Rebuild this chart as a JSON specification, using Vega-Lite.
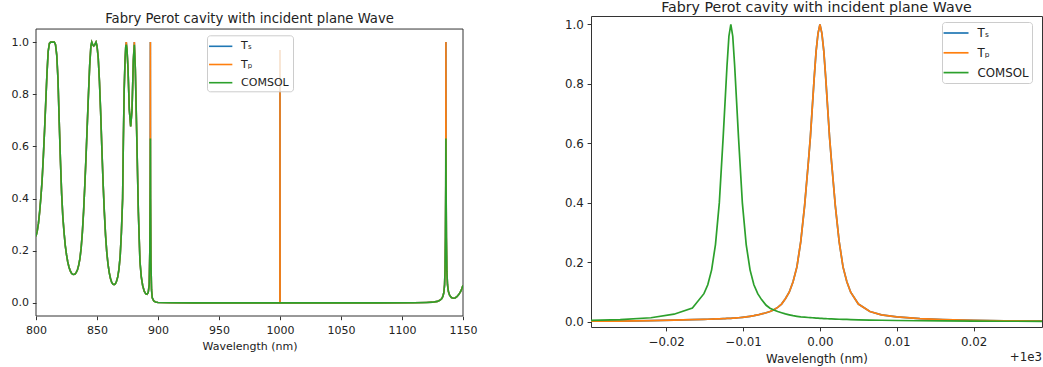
{
  "$schema": "https://vega.github.io/schema/vega-lite/v6.json",
  "background": "white",
  "padding": {"left": 11, "top": 0, "right": 2, "bottom": 0},
  "spacing": 86,
  "config": {
    "font": "DejaVu Sans",
    "view": {"stroke": "#333", "strokeWidth": 1},
    "axis": {"grid": false, "domain": false, "tickColor": "#333", "labelColor": "#222", "titleColor": "#222", "labelFont": "DejaVu Sans", "titleFont": "DejaVu Sans", "titleFontWeight": "normal", "labelFlush": false, "labelOverlap": false},
    "title": {"font": "DejaVu Sans", "fontWeight": "normal", "color": "#222", "anchor": "middle"},
    "legend": {"title": null, "orient": "none", "labelColor": "#222", "labelFont": "DejaVu Sans", "fillColor": "rgba(255,255,255,0.8)", "strokeColor": "#cccccc", "cornerRadius": 3}
  },
  "resolve": {"legend": {"color": "independent"}},
  "datasets": {
    "left": [
      {"wl": 800, "Ts": 0.255, "Tp": 0.255, "COMSOL": 0.255},
      {"wl": 801, "Ts": 0.275, "Tp": 0.275, "COMSOL": 0.275},
      {"wl": 802, "Ts": 0.305, "Tp": 0.305, "COMSOL": 0.305},
      {"wl": 803, "Ts": 0.35, "Tp": 0.35, "COMSOL": 0.35},
      {"wl": 804, "Ts": 0.405, "Tp": 0.405, "COMSOL": 0.405},
      {"wl": 805, "Ts": 0.47, "Tp": 0.47, "COMSOL": 0.47},
      {"wl": 806, "Ts": 0.56, "Tp": 0.56, "COMSOL": 0.56},
      {"wl": 807, "Ts": 0.66, "Tp": 0.66, "COMSOL": 0.66},
      {"wl": 808, "Ts": 0.77, "Tp": 0.77, "COMSOL": 0.77},
      {"wl": 809, "Ts": 0.88, "Tp": 0.88, "COMSOL": 0.88},
      {"wl": 810, "Ts": 0.965, "Tp": 0.965, "COMSOL": 0.965},
      {"wl": 811, "Ts": 0.995, "Tp": 0.995, "COMSOL": 0.995},
      {"wl": 812, "Ts": 1.0, "Tp": 1.0, "COMSOL": 1.0},
      {"wl": 813, "Ts": 1.0, "Tp": 1.0, "COMSOL": 1.0},
      {"wl": 814, "Ts": 1.0, "Tp": 1.0, "COMSOL": 1.0},
      {"wl": 815, "Ts": 1.0, "Tp": 1.0, "COMSOL": 1.0},
      {"wl": 816, "Ts": 0.99, "Tp": 0.99, "COMSOL": 0.99},
      {"wl": 817, "Ts": 0.95, "Tp": 0.95, "COMSOL": 0.95},
      {"wl": 818, "Ts": 0.86, "Tp": 0.86, "COMSOL": 0.86},
      {"wl": 819, "Ts": 0.7, "Tp": 0.7, "COMSOL": 0.7},
      {"wl": 820, "Ts": 0.55, "Tp": 0.55, "COMSOL": 0.55},
      {"wl": 821, "Ts": 0.42, "Tp": 0.42, "COMSOL": 0.42},
      {"wl": 822, "Ts": 0.33, "Tp": 0.33, "COMSOL": 0.33},
      {"wl": 823, "Ts": 0.27, "Tp": 0.27, "COMSOL": 0.27},
      {"wl": 824, "Ts": 0.22, "Tp": 0.22, "COMSOL": 0.22},
      {"wl": 825, "Ts": 0.185, "Tp": 0.185, "COMSOL": 0.185},
      {"wl": 826, "Ts": 0.158, "Tp": 0.158, "COMSOL": 0.158},
      {"wl": 827, "Ts": 0.138, "Tp": 0.138, "COMSOL": 0.138},
      {"wl": 828, "Ts": 0.124, "Tp": 0.124, "COMSOL": 0.124},
      {"wl": 829, "Ts": 0.115, "Tp": 0.115, "COMSOL": 0.115},
      {"wl": 830, "Ts": 0.11, "Tp": 0.11, "COMSOL": 0.11},
      {"wl": 831, "Ts": 0.109, "Tp": 0.109, "COMSOL": 0.109},
      {"wl": 832, "Ts": 0.111, "Tp": 0.111, "COMSOL": 0.111},
      {"wl": 833, "Ts": 0.117, "Tp": 0.117, "COMSOL": 0.117},
      {"wl": 834, "Ts": 0.127, "Tp": 0.127, "COMSOL": 0.127},
      {"wl": 835, "Ts": 0.145, "Tp": 0.145, "COMSOL": 0.145},
      {"wl": 836, "Ts": 0.17, "Tp": 0.17, "COMSOL": 0.17},
      {"wl": 837, "Ts": 0.21, "Tp": 0.21, "COMSOL": 0.21},
      {"wl": 838, "Ts": 0.27, "Tp": 0.27, "COMSOL": 0.27},
      {"wl": 839, "Ts": 0.35, "Tp": 0.35, "COMSOL": 0.35},
      {"wl": 840, "Ts": 0.45, "Tp": 0.45, "COMSOL": 0.45},
      {"wl": 841, "Ts": 0.56, "Tp": 0.56, "COMSOL": 0.56},
      {"wl": 842, "Ts": 0.68, "Tp": 0.68, "COMSOL": 0.68},
      {"wl": 843, "Ts": 0.8, "Tp": 0.8, "COMSOL": 0.8},
      {"wl": 844, "Ts": 0.91, "Tp": 0.91, "COMSOL": 0.91},
      {"wl": 845, "Ts": 0.985, "Tp": 0.985, "COMSOL": 0.985},
      {"wl": 845.7, "Ts": 1.0, "Tp": 1.0, "COMSOL": 1.0},
      {"wl": 846.5, "Ts": 0.99, "Tp": 0.99, "COMSOL": 0.99},
      {"wl": 847.3, "Ts": 0.985, "Tp": 0.985, "COMSOL": 0.985},
      {"wl": 848.2, "Ts": 0.99, "Tp": 0.99, "COMSOL": 0.99},
      {"wl": 849.2, "Ts": 1.0, "Tp": 1.0, "COMSOL": 1.0},
      {"wl": 850, "Ts": 0.985, "Tp": 0.985, "COMSOL": 0.985},
      {"wl": 851, "Ts": 0.94, "Tp": 0.94, "COMSOL": 0.94},
      {"wl": 852, "Ts": 0.85, "Tp": 0.85, "COMSOL": 0.85},
      {"wl": 853, "Ts": 0.73, "Tp": 0.73, "COMSOL": 0.73},
      {"wl": 854, "Ts": 0.59, "Tp": 0.59, "COMSOL": 0.59},
      {"wl": 855, "Ts": 0.46, "Tp": 0.46, "COMSOL": 0.46},
      {"wl": 856, "Ts": 0.35, "Tp": 0.35, "COMSOL": 0.35},
      {"wl": 857, "Ts": 0.26, "Tp": 0.26, "COMSOL": 0.26},
      {"wl": 858, "Ts": 0.195, "Tp": 0.195, "COMSOL": 0.195},
      {"wl": 859, "Ts": 0.15, "Tp": 0.15, "COMSOL": 0.15},
      {"wl": 860, "Ts": 0.117, "Tp": 0.117, "COMSOL": 0.117},
      {"wl": 861, "Ts": 0.095, "Tp": 0.095, "COMSOL": 0.095},
      {"wl": 862, "Ts": 0.08, "Tp": 0.08, "COMSOL": 0.08},
      {"wl": 863, "Ts": 0.072, "Tp": 0.072, "COMSOL": 0.072},
      {"wl": 864, "Ts": 0.07, "Tp": 0.07, "COMSOL": 0.07},
      {"wl": 865, "Ts": 0.073, "Tp": 0.073, "COMSOL": 0.073},
      {"wl": 866, "Ts": 0.083, "Tp": 0.083, "COMSOL": 0.083},
      {"wl": 867, "Ts": 0.1, "Tp": 0.1, "COMSOL": 0.1},
      {"wl": 868, "Ts": 0.13, "Tp": 0.13, "COMSOL": 0.13},
      {"wl": 869, "Ts": 0.18, "Tp": 0.18, "COMSOL": 0.18},
      {"wl": 870, "Ts": 0.27, "Tp": 0.27, "COMSOL": 0.27},
      {"wl": 871, "Ts": 0.4, "Tp": 0.4, "COMSOL": 0.4},
      {"wl": 871.6, "Ts": 0.62, "Tp": 0.62, "COMSOL": 0.62},
      {"wl": 872.3, "Ts": 0.82, "Tp": 0.82, "COMSOL": 0.82},
      {"wl": 873, "Ts": 0.93, "Tp": 0.93, "COMSOL": 0.93},
      {"wl": 873.6, "Ts": 0.985, "Tp": 0.985, "COMSOL": 0.985},
      {"wl": 874.0, "Ts": 1.0, "Tp": 1.0, "COMSOL": 0.99},
      {"wl": 874.6, "Ts": 0.97, "Tp": 0.97, "COMSOL": 0.97},
      {"wl": 875.4, "Ts": 0.9, "Tp": 0.9, "COMSOL": 0.9},
      {"wl": 876.5, "Ts": 0.74, "Tp": 0.74, "COMSOL": 0.74},
      {"wl": 877.6, "Ts": 0.677, "Tp": 0.677, "COMSOL": 0.677},
      {"wl": 878.7, "Ts": 0.74, "Tp": 0.74, "COMSOL": 0.74},
      {"wl": 879.8, "Ts": 0.93, "Tp": 0.93, "COMSOL": 0.93},
      {"wl": 880.6, "Ts": 1.0, "Tp": 1.0, "COMSOL": 0.99},
      {"wl": 881.4, "Ts": 0.9, "Tp": 0.9, "COMSOL": 0.9},
      {"wl": 882.5, "Ts": 0.66, "Tp": 0.66, "COMSOL": 0.66},
      {"wl": 883.9, "Ts": 0.35, "Tp": 0.35, "COMSOL": 0.35},
      {"wl": 885.2, "Ts": 0.16, "Tp": 0.16, "COMSOL": 0.16},
      {"wl": 886.3, "Ts": 0.1, "Tp": 0.1, "COMSOL": 0.1},
      {"wl": 887.4, "Ts": 0.068, "Tp": 0.068, "COMSOL": 0.068},
      {"wl": 888.7, "Ts": 0.045, "Tp": 0.045, "COMSOL": 0.045},
      {"wl": 890, "Ts": 0.035, "Tp": 0.035, "COMSOL": 0.035},
      {"wl": 891, "Ts": 0.033, "Tp": 0.033, "COMSOL": 0.033},
      {"wl": 892, "Ts": 0.04, "Tp": 0.04, "COMSOL": 0.04},
      {"wl": 892.8, "Ts": 0.07, "Tp": 0.07, "COMSOL": 0.07},
      {"wl": 893.3, "Ts": 0.2, "Tp": 0.2, "COMSOL": 0.2},
      {"wl": 893.6, "Ts": 0.45, "Tp": 0.45, "COMSOL": 0.45},
      {"wl": 893.75, "Ts": 1.0, "Tp": 1.0, "COMSOL": 0.63},
      {"wl": 893.9, "Ts": 0.4, "Tp": 0.4, "COMSOL": 0.4},
      {"wl": 894.2, "Ts": 0.16, "Tp": 0.16, "COMSOL": 0.16},
      {"wl": 894.7, "Ts": 0.05, "Tp": 0.05, "COMSOL": 0.05},
      {"wl": 895.3, "Ts": 0.02, "Tp": 0.02, "COMSOL": 0.02},
      {"wl": 896.5, "Ts": 0.008, "Tp": 0.008, "COMSOL": 0.008},
      {"wl": 898, "Ts": 0.004, "Tp": 0.004, "COMSOL": 0.004},
      {"wl": 900, "Ts": 0.002, "Tp": 0.002, "COMSOL": 0.002},
      {"wl": 910, "Ts": 0.001, "Tp": 0.001, "COMSOL": 0.001},
      {"wl": 930, "Ts": 0.0005, "Tp": 0.0005, "COMSOL": 0.0005},
      {"wl": 960, "Ts": 0.0003, "Tp": 0.0003, "COMSOL": 0.0003},
      {"wl": 999.9, "Ts": 0.0002, "Tp": 0.0002, "COMSOL": 0.0002},
      {"wl": 1000, "Ts": 0.97, "Tp": 0.97, "COMSOL": 0.0002},
      {"wl": 1000.1, "Ts": 0.0002, "Tp": 0.0002, "COMSOL": 0.0002},
      {"wl": 1040, "Ts": 0.0003, "Tp": 0.0003, "COMSOL": 0.0003},
      {"wl": 1080, "Ts": 0.0005, "Tp": 0.0005, "COMSOL": 0.0005},
      {"wl": 1110, "Ts": 0.001, "Tp": 0.001, "COMSOL": 0.001},
      {"wl": 1120, "Ts": 0.002, "Tp": 0.002, "COMSOL": 0.002},
      {"wl": 1125, "Ts": 0.003, "Tp": 0.003, "COMSOL": 0.003},
      {"wl": 1129, "Ts": 0.006, "Tp": 0.006, "COMSOL": 0.006},
      {"wl": 1131, "Ts": 0.01, "Tp": 0.01, "COMSOL": 0.01},
      {"wl": 1132.5, "Ts": 0.016, "Tp": 0.016, "COMSOL": 0.016},
      {"wl": 1133.5, "Ts": 0.025, "Tp": 0.025, "COMSOL": 0.025},
      {"wl": 1134.3, "Ts": 0.04, "Tp": 0.04, "COMSOL": 0.04},
      {"wl": 1134.9, "Ts": 0.07, "Tp": 0.07, "COMSOL": 0.07},
      {"wl": 1135.3, "Ts": 0.13, "Tp": 0.13, "COMSOL": 0.13},
      {"wl": 1135.6, "Ts": 0.25, "Tp": 0.25, "COMSOL": 0.25},
      {"wl": 1135.85, "Ts": 0.45, "Tp": 0.45, "COMSOL": 0.45},
      {"wl": 1136.0, "Ts": 1.0, "Tp": 1.0, "COMSOL": 0.63},
      {"wl": 1136.15, "Ts": 0.45, "Tp": 0.45, "COMSOL": 0.45},
      {"wl": 1136.4, "Ts": 0.25, "Tp": 0.25, "COMSOL": 0.25},
      {"wl": 1136.8, "Ts": 0.12, "Tp": 0.12, "COMSOL": 0.12},
      {"wl": 1137.3, "Ts": 0.07, "Tp": 0.07, "COMSOL": 0.07},
      {"wl": 1138, "Ts": 0.045, "Tp": 0.045, "COMSOL": 0.045},
      {"wl": 1139, "Ts": 0.03, "Tp": 0.03, "COMSOL": 0.03},
      {"wl": 1140.5, "Ts": 0.021, "Tp": 0.021, "COMSOL": 0.021},
      {"wl": 1142, "Ts": 0.018, "Tp": 0.018, "COMSOL": 0.018},
      {"wl": 1143.5, "Ts": 0.019, "Tp": 0.019, "COMSOL": 0.019},
      {"wl": 1145, "Ts": 0.024, "Tp": 0.024, "COMSOL": 0.024},
      {"wl": 1146.5, "Ts": 0.032, "Tp": 0.032, "COMSOL": 0.032},
      {"wl": 1148, "Ts": 0.043, "Tp": 0.043, "COMSOL": 0.043},
      {"wl": 1149, "Ts": 0.054, "Tp": 0.054, "COMSOL": 0.054},
      {"wl": 1150, "Ts": 0.068, "Tp": 0.068, "COMSOL": 0.068}
    ],
    "right": [
      {"off": -0.0298, "Ts": 0.0025, "Tp": 0.0025, "COMSOL": 0.005},
      {"off": -0.026, "Ts": 0.003, "Tp": 0.003, "COMSOL": 0.0075},
      {"off": -0.022, "Ts": 0.0045, "Tp": 0.0045, "COMSOL": 0.014},
      {"off": -0.019, "Ts": 0.006, "Tp": 0.006, "COMSOL": 0.026},
      {"off": -0.0166, "Ts": 0.0075, "Tp": 0.0075, "COMSOL": 0.047},
      {"off": -0.0151, "Ts": 0.0085, "Tp": 0.0085, "COMSOL": 0.095},
      {"off": -0.0146, "Ts": 0.009, "Tp": 0.009, "COMSOL": 0.125},
      {"off": -0.0141, "Ts": 0.0095, "Tp": 0.0095, "COMSOL": 0.175},
      {"off": -0.0136, "Ts": 0.01, "Tp": 0.01, "COMSOL": 0.26},
      {"off": -0.0131, "Ts": 0.0105, "Tp": 0.0105, "COMSOL": 0.4},
      {"off": -0.0126, "Ts": 0.011, "Tp": 0.011, "COMSOL": 0.62},
      {"off": -0.01235, "Ts": 0.0113, "Tp": 0.0113, "COMSOL": 0.74},
      {"off": -0.0121, "Ts": 0.0117, "Tp": 0.0117, "COMSOL": 0.86},
      {"off": -0.01185, "Ts": 0.012, "Tp": 0.012, "COMSOL": 0.96},
      {"off": -0.0116, "Ts": 0.0123, "Tp": 0.0123, "COMSOL": 1.0},
      {"off": -0.01135, "Ts": 0.0127, "Tp": 0.0127, "COMSOL": 0.96},
      {"off": -0.0111, "Ts": 0.013, "Tp": 0.013, "COMSOL": 0.86},
      {"off": -0.01085, "Ts": 0.0135, "Tp": 0.0135, "COMSOL": 0.74},
      {"off": -0.0106, "Ts": 0.014, "Tp": 0.014, "COMSOL": 0.62},
      {"off": -0.0101, "Ts": 0.0155, "Tp": 0.0155, "COMSOL": 0.4},
      {"off": -0.0096, "Ts": 0.017, "Tp": 0.017, "COMSOL": 0.26},
      {"off": -0.0091, "Ts": 0.019, "Tp": 0.019, "COMSOL": 0.175},
      {"off": -0.0086, "Ts": 0.021, "Tp": 0.021, "COMSOL": 0.125},
      {"off": -0.0081, "Ts": 0.0235, "Tp": 0.0235, "COMSOL": 0.095},
      {"off": -0.0076, "Ts": 0.027, "Tp": 0.027, "COMSOL": 0.075},
      {"off": -0.007, "Ts": 0.031, "Tp": 0.031, "COMSOL": 0.056},
      {"off": -0.0065, "Ts": 0.035, "Tp": 0.035, "COMSOL": 0.046},
      {"off": -0.006, "Ts": 0.041, "Tp": 0.041, "COMSOL": 0.04},
      {"off": -0.0055, "Ts": 0.049, "Tp": 0.049, "COMSOL": 0.035},
      {"off": -0.005, "Ts": 0.06, "Tp": 0.06, "COMSOL": 0.031},
      {"off": -0.0045, "Ts": 0.078, "Tp": 0.078, "COMSOL": 0.027},
      {"off": -0.004, "Ts": 0.1, "Tp": 0.1, "COMSOL": 0.024},
      {"off": -0.0035, "Ts": 0.135, "Tp": 0.135, "COMSOL": 0.021},
      {"off": -0.003, "Ts": 0.185, "Tp": 0.185, "COMSOL": 0.019},
      {"off": -0.0025, "Ts": 0.27, "Tp": 0.27, "COMSOL": 0.017},
      {"off": -0.002, "Ts": 0.39, "Tp": 0.39, "COMSOL": 0.016},
      {"off": -0.0015, "Ts": 0.54, "Tp": 0.54, "COMSOL": 0.015},
      {"off": -0.00125, "Ts": 0.62, "Tp": 0.62, "COMSOL": 0.0145},
      {"off": -0.001, "Ts": 0.72, "Tp": 0.72, "COMSOL": 0.014},
      {"off": -0.00075, "Ts": 0.82, "Tp": 0.82, "COMSOL": 0.0135},
      {"off": -0.0005, "Ts": 0.91, "Tp": 0.91, "COMSOL": 0.013},
      {"off": -0.00025, "Ts": 0.97, "Tp": 0.97, "COMSOL": 0.0125},
      {"off": 0, "Ts": 1.0, "Tp": 1.0, "COMSOL": 0.012},
      {"off": 0.00025, "Ts": 0.97, "Tp": 0.97, "COMSOL": 0.0117},
      {"off": 0.0005, "Ts": 0.91, "Tp": 0.91, "COMSOL": 0.0113},
      {"off": 0.00075, "Ts": 0.82, "Tp": 0.82, "COMSOL": 0.011},
      {"off": 0.001, "Ts": 0.72, "Tp": 0.72, "COMSOL": 0.0107},
      {"off": 0.00125, "Ts": 0.62, "Tp": 0.62, "COMSOL": 0.0104},
      {"off": 0.0015, "Ts": 0.54, "Tp": 0.54, "COMSOL": 0.0101},
      {"off": 0.002, "Ts": 0.39, "Tp": 0.39, "COMSOL": 0.0096},
      {"off": 0.0025, "Ts": 0.27, "Tp": 0.27, "COMSOL": 0.0091},
      {"off": 0.003, "Ts": 0.185, "Tp": 0.185, "COMSOL": 0.0087},
      {"off": 0.0035, "Ts": 0.135, "Tp": 0.135, "COMSOL": 0.0083},
      {"off": 0.004, "Ts": 0.1, "Tp": 0.1, "COMSOL": 0.0079},
      {"off": 0.005, "Ts": 0.06, "Tp": 0.06, "COMSOL": 0.0072},
      {"off": 0.0065, "Ts": 0.035, "Tp": 0.035, "COMSOL": 0.0063},
      {"off": 0.008, "Ts": 0.024, "Tp": 0.024, "COMSOL": 0.0056},
      {"off": 0.01, "Ts": 0.017, "Tp": 0.017, "COMSOL": 0.0049},
      {"off": 0.013, "Ts": 0.011, "Tp": 0.011, "COMSOL": 0.004},
      {"off": 0.016, "Ts": 0.008, "Tp": 0.008, "COMSOL": 0.0034},
      {"off": 0.02, "Ts": 0.0055, "Tp": 0.0055, "COMSOL": 0.0028},
      {"off": 0.024, "Ts": 0.004, "Tp": 0.004, "COMSOL": 0.0024},
      {"off": 0.0289, "Ts": 0.003, "Tp": 0.003, "COMSOL": 0.002}
    ]
  },
  "hconcat": [
    {
      "width": 427,
      "height": 300,
      "view": {"stroke": null},
      "layer": [
        {
          "data": {"values": [{}]},
          "mark": {"type": "rect", "filled": false, "stroke": "#333", "strokeWidth": 1, "clip": false},
          "encoding": {
            "x": {"datum": 800, "type": "quantitative"},
            "x2": {"datum": 1150},
            "y": {"datum": -0.05, "type": "quantitative"},
            "y2": {"datum": 1.05}
          }
        },
        {
          "data": {"name": "left"},
          "transform": [{"fold": ["Ts", "Tp", "COMSOL"], "as": ["series", "T"]}],
          "mark": {"type": "line", "strokeWidth": 1.6, "clip": true},
          "encoding": {
            "x": {"field": "wl", "type": "quantitative", "scale": {"domain": [800, 1150], "nice": false, "zero": false},
                  "axis": {"title": "Wavelength (nm)", "values": [800, 850, 900, 950, 1000, 1050, 1100, 1150], "format": "d", "labelFontSize": 11, "titleFontSize": 11, "tickSize": 3.7, "labelPadding": 5.2, "titlePadding": 5}},
            "y": {"field": "T", "type": "quantitative", "scale": {"domain": [-0.05, 1.1], "nice": false, "zero": false},
                  "axis": {"title": null, "values": [0, 0.2, 0.4, 0.6, 0.8, 1.0], "format": ".1f", "labelFontSize": 11, "tickSize": 3.7, "labelPadding": 3.7}},
            "color": {"field": "series", "type": "nominal",
                      "scale": {"domain": ["Ts", "Tp", "COMSOL"], "range": ["#1f77b4", "#ff7f0e", "#2ca02c"]},
                      "legend": {"legendX": 171, "legendY": 19.3, "labelFontSize": 11, "symbolType": "M-1.4,0L2.24,0", "symbolSize": 164, "symbolStrokeWidth": 1.6,
                                 "padding": 3.5, "rowPadding": 5.2, "labelOffset": 15.6,
                                 "labelExpr": "datum.value == 'Ts' ? 'Tₛ' : datum.value == 'Tp' ? 'Tₚ' : datum.value"}}
          }
        },
        {
          "data": {"values": [{}]},
          "mark": {"type": "text", "align": "center", "baseline": "alphabetic", "clip": false, "fontSize": 13.2, "color": "#222"},
          "encoding": {
            "x": {"datum": 975, "type": "quantitative"},
            "y": {"datum": 1.072, "type": "quantitative"},
            "text": {"value": "Fabry Perot cavity with incident plane Wave"}
          }
        }
      ]
    },
    {
      "width": 451,
      "height": 311,
      "title": {"text": "Fabry Perot cavity with incident plane Wave", "fontSize": 14.2, "offset": -10, "baseline": "alphabetic"},
      "layer": [
        {
          "data": {"name": "right"},
          "transform": [{"fold": ["Ts", "Tp", "COMSOL"], "as": ["series", "T"]}],
          "mark": {"type": "line", "strokeWidth": 1.7, "clip": true},
          "encoding": {
            "x": {"field": "off", "type": "quantitative", "scale": {"domain": [-0.0298, 0.0289], "nice": false, "zero": false},
                  "axis": {"title": "Wavelength (nm)", "values": [-0.02, -0.01, 0, 0.01, 0.02], "format": ".2f", "labelFontSize": 11.8, "titleFontSize": 11.8, "tickSize": 3.9, "labelPadding": 5.2, "titlePadding": 6}},
            "y": {"field": "T", "type": "quantitative", "scale": {"domain": [-0.017, 1.028], "nice": false, "zero": false},
                  "axis": {"title": null, "values": [0, 0.2, 0.4, 0.6, 0.8, 1.0], "format": ".1f", "labelFontSize": 11.8, "tickSize": 3.9, "labelPadding": 3.9}},
            "color": {"field": "series", "type": "nominal",
                      "scale": {"domain": ["Ts", "Tp", "COMSOL"], "range": ["#1f77b4", "#ff7f0e", "#2ca02c"]},
                      "legend": {"legendX": 351, "legendY": 6, "labelFontSize": 11.8, "symbolType": "M-1.4,0L2.3,0", "symbolSize": 182, "symbolStrokeWidth": 1.7,
                                 "padding": 3, "rowPadding": 4.8, "labelOffset": 16.5,
                                 "labelExpr": "datum.value == 'Ts' ? 'Tₛ' : datum.value == 'Tp' ? 'Tₚ' : datum.value"}}
          }
        },
        {
          "data": {"values": [{}]},
          "mark": {"type": "text", "align": "right", "baseline": "middle", "clip": false, "fontSize": 11.8, "color": "#222"},
          "encoding": {
            "x": {"datum": 0.0289, "type": "quantitative"},
            "y": {"datum": -0.119, "type": "quantitative"},
            "text": {"value": "+1e3"}
          }
        }
      ]
    }
  ]
}
